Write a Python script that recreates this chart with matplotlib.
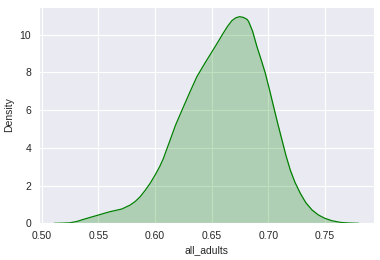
import matplotlib
matplotlib.use("Agg")
import matplotlib.pyplot as plt
import seaborn as sns

sns.set_style("darkgrid")
plt.rcParams['font.family'] = ['Liberation Sans', 'DejaVu Sans']

# KDE curve points
x_vals = [0.5109, 0.5180, 0.5250, 0.5310, 0.5368, 0.5430, 0.5500, 0.5550, 0.5603, 0.5655,
          0.5707, 0.5780, 0.5825, 0.5868, 0.5910, 0.5956, 0.6000, 0.6040, 0.6074, 0.6104,
          0.6127, 0.6180, 0.6251, 0.6310, 0.6369, 0.6440, 0.6502, 0.6555, 0.6604, 0.6640,
          0.6678, 0.6712, 0.6746, 0.6780, 0.6811, 0.6825, 0.6860, 0.6899, 0.6935, 0.6973,
          0.7010, 0.7046, 0.7083, 0.7120, 0.7155, 0.7193, 0.7235, 0.7282, 0.7330, 0.7385,
          0.7440, 0.7497, 0.7560, 0.7635, 0.7710, 0.7797]
density = [0.00, 0.01, 0.03, 0.10, 0.21, 0.32, 0.44, 0.53, 0.62, 0.69,
           0.76, 0.97, 1.16, 1.41, 1.73, 2.12, 2.56, 3.00, 3.45, 3.95,
           4.32, 5.20, 6.19, 7.00, 7.78, 8.50, 9.10, 9.62, 10.11, 10.45,
           10.75, 10.90, 10.96, 10.92, 10.82, 10.71, 10.20, 9.37, 8.70, 7.96,
           7.08, 6.19, 5.28, 4.42, 3.60, 2.83, 2.17, 1.59, 1.10, 0.71,
           0.45, 0.27, 0.14, 0.05, 0.02, 0.00]

fig = plt.figure(figsize=(3.8, 2.6), dpi=100)
ax = fig.add_axes([0.1024, 0.141, 0.8816, 0.834])
ax.fill_between(x_vals, density, color="green", alpha=0.25, linewidth=0)
ax.plot(x_vals, density, color="green", linewidth=0.9)
ax.set_ylim(0, 11.5)
ax.set_xticks([0.50, 0.55, 0.60, 0.65, 0.70, 0.75])
ax.set_yticks([0, 2, 4, 6, 8, 10])
ax.tick_params(labelsize=7.5, pad=2)
ax.set_xlabel("all_adults", fontsize=7.5, labelpad=3)
ax.set_ylabel("Density", fontsize=7.5, labelpad=4)
fig.savefig("out.png", dpi=100)
